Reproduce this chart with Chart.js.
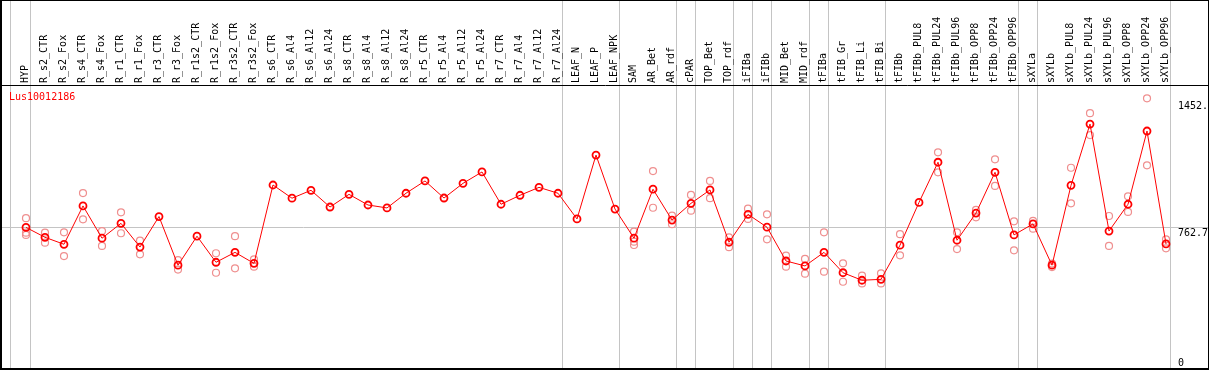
<!DOCTYPE html>
<html><head><meta charset="utf-8">
<script src="https://cdn.jsdelivr.net/npm/chart.js@4/dist/chart.umd.min.js"></script>
<style>
html,body{margin:0;padding:0;background:#fff;}
#frame{position:absolute;left:0;top:0;width:1209px;height:370px;box-sizing:border-box;border-top:1px solid #000;border-left:2px solid #000;border-bottom:2px solid #000;border-right:1px solid #000;}
#wrap{position:relative;width:1206px;height:367px;}
</style></head><body>
<div id="frame"><div id="wrap"><canvas id="c"></canvas></div></div>
<script>
const seriesName = 'Lus10012186';
const categories = ['HYP','R_s2_CTR','R_s2_Fox','R_s4_CTR','R_s4_Fox','R_r1_CTR','R_r1_Fox','R_r3_CTR','R_r3_Fox','R_r1s2_CTR','R_r1s2_Fox','R_r3s2_CTR','R_r3s2_Fox','R_s6_CTR','R_s6_Al4','R_s6_Al12','R_s6_Al24','R_s8_CTR','R_s8_Al4','R_s8_Al12','R_s8_Al24','R_r5_CTR','R_r5_Al4','R_r5_Al12','R_r5_Al24','R_r7_CTR','R_r7_Al4','R_r7_Al12','R_r7_Al24','LEAF_N','LEAF_P','LEAF_NPK','SAM','AR_Bet','AR_rdf','cPAR','TOP_Bet','TOP_rdf','iFIBa','iFIBb','MID_Bet','MID_rdf','tFIBa','tFIB_Gr','tFIB_Li','tFIB_Bi','tFIBb','tFIBb_PUL8','tFIBb_PUL24','tFIBb_PUL96','tFIBb_OPP8','tFIBb_OPP24','tFIBb_OPP96','sXYLa','sXYLb','sXYLb_PUL8','sXYLb_PUL24','sXYLb_PUL96','sXYLb_OPP8','sXYLb_OPP24','sXYLb_OPP96'];
const means = [766,712,674,883,707,788,659,825,560,718,576,630,570,997,925,968,877,946,888,872,952,1019,926,1006,1068,892,941,984,952,812,1160,866,707,974,806,897,970,685,837,767,583,556,630,519,478,483,669,902,1121,696,844,1066,725,785,560,995,1329,746,892,1291,676];
const rep1 = [816,737,739,953,746,848,694,null,588,null,625,718,592,null,null,null,null,null,null,null,null,null,null,null,null,null,null,null,null,null,null,null,743,1073,830,943,1019,712,868,837,612,594,739,570,503,516,729,null,1175,739,861,1137,799,801,569,1091,1388,828,935,1469,701];
const rep2 = [737,683,610,810,665,734,619,null,536,null,519,543,552,null,null,null,null,null,null,null,null,null,null,null,null,null,null,null,null,null,null,null,688,873,783,857,925,658,812,701,552,514,525,470,461,461,614,null,1066,648,821,992,641,759,550,897,1269,665,850,1104,652];
const rep3 = [725,null,null,null,null,null,null,null,null,null,null,null,null,null,null,null,null,null,null,null,null,null,null,null,null,null,null,null,null,null,null,null,670,null,null,null,null,null,null,null,null,null,null,null,null,null,null,null,null,null,null,null,null,null,null,null,null,null,null,null,null];
const groupEnds = [0,28,31,34,35,37,38,39,41,42,45,52,53,60];
const yTickValues = [0, 762.7, 1452];
const yTickLabels = ['0', '762.7', '1452.'];

Chart.defaults.font.family = '"DejaVu Sans Mono", monospace';
Chart.defaults.font.size = 10;
Chart.defaults.color = '#000';

const toPts = arr => arr.map((v, i) => (v === null ? null : {x: i, y: v})).filter(p => p);
const X_MIN = -1.263, X_MAX = 62.21;
const GRAY = '#c4c4c4';
const NONE = 'rgba(0,0,0,0)';
const noPad = s => { s.paddingLeft = 0; s.paddingRight = 0; s.paddingTop = 0; s.paddingBottom = 0; };

const repStyle = {
  type: 'scatter', showLine: false, pointRadius: 3.5, pointHoverRadius: 3.5,
  pointBorderWidth: 1.2, pointBorderColor: '#ef8f8f', pointBackgroundColor: NONE, order: 1
};

const seriesTag = {
  id: 'seriesTag',
  afterDraw(chart) {
    const a = chart.chartArea, ctx = chart.ctx;
    ctx.save();
    ctx.font = '10px "DejaVu Sans Mono", monospace';
    ctx.fillStyle = '#ff0000';
    ctx.textBaseline = 'middle';
    ctx.textAlign = 'left';
    ctx.fillText(chart.data.datasets[0].label, a.left + 7, a.top + 12.5);
    ctx.restore();
  }
};
const zeroLabel = {
  id: 'zeroLabel',
  beforeDraw(chart) {
    const s = chart.scales.y;
    const items = s.getLabelItems();
    items.forEach((it, i) => {
      if (s.ticks[i] && s.ticks[i].value === 0) { it.options.textBaseline = 'bottom'; it.options.backdrop = null; }
    });
  }
};

new Chart(document.getElementById('c'), {
  type: 'line',
  data: {
    datasets: [
      { label: seriesName, data: toPts(means), borderColor: '#ff0000', borderWidth: 1,
        pointRadius: 3.5, pointHoverRadius: 3.5, pointBorderWidth: 1.8, pointBorderColor: '#ff0000',
        pointBackgroundColor: NONE, tension: 0, order: 0 },
      Object.assign({ label: 'rep 1', data: toPts(rep1) }, repStyle),
      Object.assign({ label: 'rep 2', data: toPts(rep2) }, repStyle),
      Object.assign({ label: 'rep 3', data: toPts(rep3) }, repStyle)
    ]
  },
  options: {
    responsive: true, maintainAspectRatio: false, animation: false,
    layout: { padding: 0, autoPadding: false },
    plugins: { legend: { display: false }, tooltip: { enabled: false } },
    scales: {
      x: {
        type: 'linear', position: 'top', weight: 10, min: X_MIN, max: X_MAX,
        afterBuildTicks: s => { s.ticks = categories.map((_, i) => ({ value: i })); },
        afterFit: s => { s.height = 84; noPad(s); },
        grid: { display: false, drawTicks: false },
        border: { display: false },
        ticks: { autoSkip: false, minRotation: 90, maxRotation: 90, padding: 2, labelOffset: 11, color: '#000',
                 callback: v => categories[Math.round(v)] }
      },
      xg: {
        type: 'linear', position: 'top', weight: 0, min: X_MIN, max: X_MAX,
        afterBuildTicks: s => { s.ticks = [{ value: -0.8 }].concat(groupEnds.map(i => ({ value: i + 0.25 }))); },
        afterFit: s => { s.height = 0; noPad(s); },
        grid: { color: GRAY, lineWidth: 1, drawTicks: true, tickLength: 84 },
        border: { display: true, color: '#000', width: 1 },
        ticks: { display: false }
      },
      y: {
        type: 'linear', position: 'right', min: 0, max: 1541.7,
        afterBuildTicks: s => { s.ticks = yTickValues.map(v => ({ value: v })); },
        afterFit: s => { s.width = 0; noPad(s); },
        grid: { color: c => (c.tick && c.tick.value === 762.7 ? GRAY : NONE), drawTicks: false, lineWidth: 1 },
        border: { display: false },
        ticks: { mirror: true, crossAlign: 'far', align: 'start', padding: 0, color: '#000',
                 showLabelBackdrop: true, backdropColor: '#fff',
                 backdropPadding: { left: 1, right: 0, top: 0, bottom: 0 },
                 callback: (v, i) => yTickLabels[i] }
      }
    }
  },
  plugins: [seriesTag, zeroLabel]
});
</script>
</body></html>
